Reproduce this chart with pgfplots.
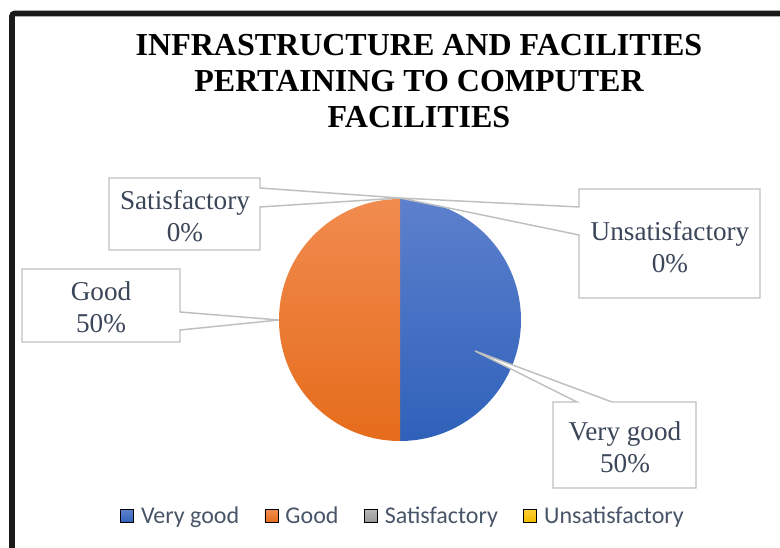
\documentclass[border=0pt]{standalone}
\usepackage{pgfplots}
\pgfplotsset{compat=1.18}
\usepackage{pgfplotstable}
\usepackage{fontspec}
\setmainfont{Liberation Serif}
\newfontfamily\legendfont{Carlito}

\definecolor{vgTop}{RGB}{93,128,205}
\definecolor{vgBot}{RGB}{47,97,186}
\definecolor{gdTop}{RGB}{241,139,79}
\definecolor{gdBot}{RGB}{229,108,27}
\definecolor{stTop}{RGB}{182,182,182}
\definecolor{stBot}{RGB}{150,150,150}
\definecolor{unTop}{RGB}{255,207,51}
\definecolor{unBot}{RGB}{240,185,0}
\definecolor{lblText}{RGB}{59,70,89}
\definecolor{legText}{RGB}{72,84,104}
\definecolor{callout}{RGB}{191,191,191}
\definecolor{frameCol}{RGB}{26,26,26}

% share of respondents per rating
\pgfplotstableread{
label value
Very_good 50
Good 50
Satisfactory 0
Unsatisfactory 0
}\piedata

\begin{document}
\begin{tikzpicture}
\pgfplotstablegetelem{0}{value}\of\piedata \let\vA\pgfplotsretval
\pgfplotstablegetelem{1}{value}\of\piedata \let\vB\pgfplotsretval
\pgfplotstablegetelem{2}{value}\of\piedata \let\vC\pgfplotsretval
\pgfplotstablegetelem{3}{value}\of\piedata \let\vD\pgfplotsretval
\pgfmathsetmacro\tot{\vA+\vB+\vC+\vD}
\pgfmathsetmacro\fA{\vA/\tot}
\pgfmathsetmacro\fB{\vB/\tot}
\pgfmathsetmacro\fC{\vC/\tot}
\pgfmathsetmacro\fD{\vD/\tot}
\pgfmathsetmacro\angA{90-360*\fA}
\pgfmathsetmacro\angB{\angA-360*\fB}
\pgfmathtruncatemacro\pA{round(100*\fA)}
\pgfmathtruncatemacro\pB{round(100*\fB)}
\pgfmathtruncatemacro\pC{round(100*\fC)}
\pgfmathtruncatemacro\pD{round(100*\fD)}
\begin{axis}[
  x=0.75pt, y=0.75pt,
  xmin=0, xmax=780, ymin=0, ymax=548,
  enlargelimits=false,
  hide axis, clip=false,
  legend columns=4,
  legend style={at={(0.517,0.058)}, anchor=center, draw=none, fill=none,
    font=\legendfont\fontsize{18}{20}\selectfont, text=legText,
    /tikz/every odd column/.append style={column sep=3.5pt},
    /tikz/every even column/.append style={column sep=17pt}},
]
\coordinate (bbSW) at (axis cs:0,0);
\coordinate (bbNE) at (axis cs:780,548);
% frame
\draw[frameCol, line width=4.2pt, rounded corners=2pt]
  (axis cs:12,-20) -- (axis cs:12,534.5) -- (axis cs:800,534.5);

% title
\node[align=center, font=\fontsize{24}{27}\selectfont\bfseries]
  at (axis cs:419,467) {INFRASTRUCTURE AND FACILITIES\\PERTAINING TO COMPUTER\\FACILITIES};

% slices
\path[top color=vgTop, bottom color=vgBot]
  (axis cs:400,228) -- ++(90:90.75pt) arc[start angle=90, end angle=\angA, radius=90.75pt] -- cycle;
\path[top color=gdTop, bottom color=gdBot]
  (axis cs:400,228) -- ++(\angA:90.75pt) arc[start angle=\angA, end angle=\angB, radius=90.75pt] -- cycle;

% callouts
\draw[callout, line width=1.1pt, fill=white]
  (axis cs:109,370) -- (axis cs:260,370) -- (axis cs:260,360) -- (axis cs:400,350)
  -- (axis cs:260,341) -- (axis cs:260,298) -- (axis cs:109,298) -- cycle;
\draw[callout, line width=1.1pt, fill=white]
  (axis cs:579,359) -- (axis cs:760,359) -- (axis cs:760,250) -- (axis cs:579,250)
  -- (axis cs:579,313) -- (axis cs:400,350) -- (axis cs:579,341) -- cycle;
\draw[callout, line width=1.1pt, fill=white]
  (axis cs:22,279) -- (axis cs:180,279) -- (axis cs:180,236) -- (axis cs:279,228)
  -- (axis cs:180,218) -- (axis cs:180,206) -- (axis cs:22,206) -- cycle;
\draw[callout, line width=1.1pt, fill=white]
  (axis cs:553,146) -- (axis cs:577,146) -- (axis cs:475,197) -- (axis cs:612,146)
  -- (axis cs:696,146) -- (axis cs:696,60) -- (axis cs:553,60) -- cycle;

\tikzset{lbl/.style={align=center, text=lblText, font=\fontsize{20.4}{24}\selectfont}}
\node[lbl] at (axis cs:185,332) {Satisfactory\\\pC\%};
\node[lbl] at (axis cs:670,301) {Unsatisfactory\\\pD\%};
\node[lbl] at (axis cs:101,241) {Good\\\pB\%};
\node[lbl] at (axis cs:625,101) {Very good\\\pA\%};

% legend
\addlegendimage{legend image code/.code={\path[top color=vgTop,bottom color=vgBot] (0pt,-4.9pt) rectangle (9.8pt,4.9pt);}}
\addlegendentry{Very good}
\addlegendimage{legend image code/.code={\path[top color=gdTop,bottom color=gdBot] (0pt,-4.9pt) rectangle (9.8pt,4.9pt);}}
\addlegendentry{Good}
\addlegendimage{legend image code/.code={\path[top color=stTop,bottom color=stBot] (0pt,-4.9pt) rectangle (9.8pt,4.9pt);}}
\addlegendentry{Satisfactory}
\addlegendimage{legend image code/.code={\path[top color=unTop,bottom color=unBot] (0pt,-4.9pt) rectangle (9.8pt,4.9pt);}}
\addlegendentry{Unsatisfactory}
\end{axis}
\pgfresetboundingbox
\path[use as bounding box] (bbSW) rectangle (bbNE);
\end{tikzpicture}
\end{document}
